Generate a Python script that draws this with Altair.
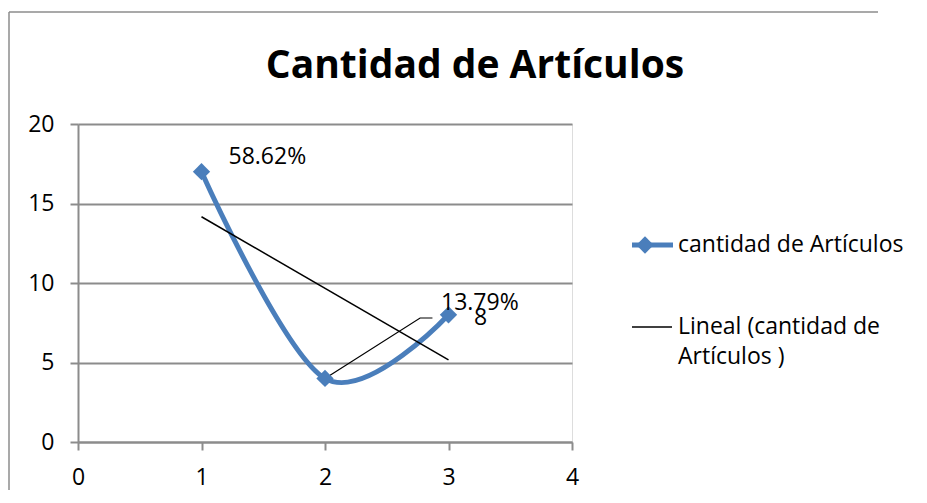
import altair as alt
import pandas as pd

# ---- data ----
x_vals = [1, 2, 3]
y_vals = [17, 4, 8]
label_text = ["58.62%", "13.79%", "8"]
leader_x = [2, 2.77, 2.87]
leader_y = [4, 7.8, 7.8]
x_ticks = [0, 1, 2, 3, 4]
y_ticks = [0, 5, 10, 15, 20]
title_text = "Cantidad de Artículos"
legend_series = "cantidad de Artículos"
legend_trend = ["Lineal (cantidad de", "Artículos )"]

FONT = "Open Sans"
BLUE = "#4A7EBB"
GREY = "#8C8C8C"
FS = 23

df = pd.DataFrame({"x": x_vals, "y": y_vals, "label": label_text})
leader = pd.DataFrame({"x": leader_x, "y": leader_y})

W, H = 494, 318

xs = alt.Scale(domain=[0, 4], nice=False)
ys = alt.Scale(domain=[0, 20], nice=False)

x_axis = alt.Axis(values=x_ticks, format="d", grid=False, domainColor=GREY, domainWidth=2,
                  tickColor=GREY, tickWidth=2, tickSize=8, labelFont=FONT,
                  labelFontSize=FS, labelColor="black", labelPadding=16, title=None,
                  labelFlush=False)
y_axis = alt.Axis(values=y_ticks, format="d", grid=True, gridColor=GREY, gridWidth=2,
                  domainColor=GREY, domainWidth=2, tickColor=GREY, tickWidth=2,
                  tickSize=8, labelFont=FONT, labelFontSize=FS, labelColor="black",
                  labelPadding=16, title=None, labelFlush=False)

base = alt.Chart(df)

series = base.mark_line(color=BLUE, strokeWidth=5, interpolate="cardinal").encode(
    x=alt.X("x:Q", scale=xs, axis=x_axis),
    y=alt.Y("y:Q", scale=ys, axis=y_axis),
)
points = base.mark_point(shape="diamond", filled=True, color=BLUE, size=300, opacity=1).encode(
    x=alt.X("x:Q", scale=xs), y=alt.Y("y:Q", scale=ys)
)
trend = base.transform_regression("x", "y", method="linear").mark_line(
    color="black", strokeWidth=1.5
).encode(x=alt.X("x:Q", scale=xs), y=alt.Y("y:Q", scale=ys))

leader_line = alt.Chart(leader).mark_line(color="black", strokeWidth=1.2).encode(
    x=alt.X("x:Q", scale=xs), y=alt.Y("y:Q", scale=ys)
)

label_offsets = [(27, -15, "left"), (116, -75, "left"), (32, 3, "center")]
label_layers = []
for i, (dx, dy, al) in enumerate(label_offsets):
    label_layers.append(
        alt.Chart(df.iloc[[i]]).mark_text(
            font=FONT, fontSize=FS, color="black", align=al, baseline="middle", dx=dx, dy=dy
        ).encode(x=alt.X("x:Q", scale=xs), y=alt.Y("y:Q", scale=ys), text="label:N")
    )

one = alt.Data(values=[{}])

border_top = alt.Chart(one).mark_rule(color=GREY, strokeWidth=1.5, clip=False).encode(
    x=alt.value(-69), x2=alt.value(800), y=alt.value(-112)
)
border_left = alt.Chart(one).mark_rule(color=GREY, strokeWidth=1.5, clip=False).encode(
    x=alt.value(-69), y=alt.value(-112), y2=alt.value(420)
)

title = alt.Chart(one).mark_text(
    text=title_text, font=FONT, fontSize=39, fontWeight="bold", color="black",
    align="center", baseline="alphabetic"
).encode(x=alt.value(397), y=alt.value(-46))

leg_line1 = alt.Chart(one).mark_rule(color=BLUE, strokeWidth=5).encode(
    x=alt.value(554), x2=alt.value(595), y=alt.value(121)
)
leg_pt = alt.Chart(one).mark_point(shape="diamond", filled=True, color=BLUE, size=300, opacity=1).encode(
    x=alt.value(567), y=alt.value(121)
)
leg_text1 = alt.Chart(one).mark_text(
    text=legend_series, font=FONT, fontSize=FS, color="black", align="left", baseline="middle"
).encode(x=alt.value(600), y=alt.value(121))
leg_line2 = alt.Chart(one).mark_rule(color="black", strokeWidth=1.5).encode(
    x=alt.value(554), x2=alt.value(594), y=alt.value(203)
)
leg_text2 = alt.Chart(one).mark_text(
    text=legend_trend[0], font=FONT, fontSize=FS, color="black", align="left", baseline="middle"
).encode(x=alt.value(600), y=alt.value(203))
leg_text3 = alt.Chart(one).mark_text(
    text=legend_trend[1], font=FONT, fontSize=FS, color="black", align="left", baseline="middle"
).encode(x=alt.value(600), y=alt.value(233))

chart = alt.layer(
    border_top, border_left, series, trend, leader_line, points, *label_layers, title,
    leg_line1, leg_pt, leg_text1, leg_line2, leg_text2, leg_text3
).properties(
    width=W, height=H,
    autosize=alt.AutoSizeParams(type="none"),
    padding={"left": 70, "top": 116, "right": 340, "bottom": 48},
).configure_view(stroke=None).configure(background="white")

chart.save("out.html", embed_options={"renderer": "svg", "actions": False})
